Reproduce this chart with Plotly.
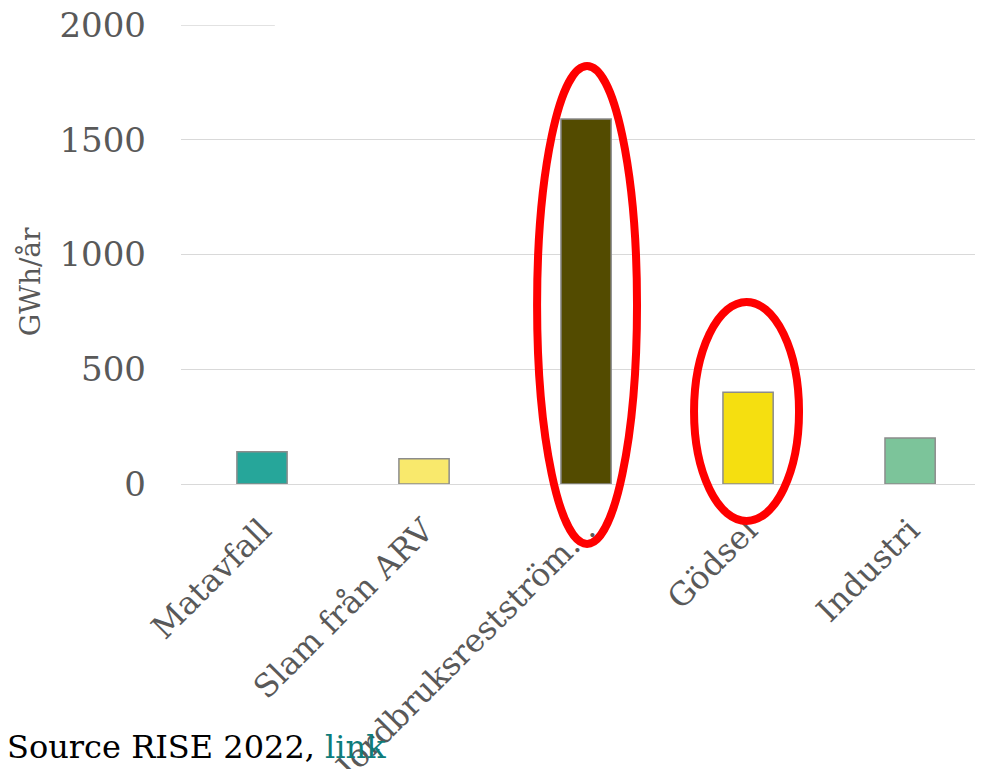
import plotly.graph_objects as go

categories = ["Matavfall", "Slam från ARV", "Jordbruksrestström…", "Gödsel", "Industri"]
values = [140, 110, 1590, 400, 200]
colors = ["#26A69A", "#F9E96C", "#534B00", "#F5DF10", "#7CC49A"]
y_ticks = [0, 500, 1000, 1500, 2000]

FONT = "DejaVu Serif"

fig = go.Figure(go.Bar(
    x=categories, y=values,
    marker=dict(color=colors, line=dict(color="#8C8C8C", width=1.5)),
    width=0.31,
))

# page body has an 8px margin: figure is offset by (8, 8) on screen
fig.update_layout(
    width=975, height=761,
    margin=dict(l=173, r=0, t=17, b=285, autoexpand=False),
    plot_bgcolor="white", paper_bgcolor="white",
    showlegend=False,
    font=dict(family=FONT, color="#595959"),
    xaxis=dict(
        range=[-0.5, 4.45], tickangle=-45, showgrid=False, automargin=False,
        tickfont=dict(size=32, family=FONT, color="#595959"),
        ticklabelstandoff=20, showline=False, zeroline=False,
    ),
    yaxis=dict(
        range=[0, 2000], tickvals=y_ticks, showgrid=True, gridcolor="#D9D9D9",
        gridwidth=1.3, zeroline=True, zerolinecolor="#D9D9D9", zerolinewidth=1.3,
        tickfont=dict(size=34, family=FONT, color="#595959"),
        ticklabelstandoff=34, ticklabeloverflow="allow", automargin=False,
    ),
    shapes=[
        dict(type="rect", xref="paper", yref="paper", x0=0.117, x1=1.02, y0=0.98, y1=1.02,
             fillcolor="white", line=dict(width=0), layer="above"),
        dict(type="line", xref="paper", yref="y", x0=0, x1=0.117, y0=2000, y1=2000,
             line=dict(color="#D9D9D9", width=1.3), layer="above"),
        dict(type="circle", xref="paper", yref="paper", x0=0.444, x1=0.5686, y0=-0.1307, y1=0.9107,
             line=dict(color="#FF0000", width=8), layer="above"),
        dict(type="circle", xref="paper", yref="paper", x0=0.6397, x1=0.7706, y0=-0.0806, y1=0.3965,
             line=dict(color="#FF0000", width=8), layer="above"),
    ],
    annotations=[
        dict(text="GWh/år", xref="paper", yref="paper", x=-0.188, y=0.44,
             xanchor="center", yanchor="middle", textangle=-90, showarrow=False,
             font=dict(size=28, family=FONT, color="#595959")),
        dict(text="Source RISE 2022, <span style='color:#0E7C7B'>link</span>",
             xref="paper", yref="paper", x=-0.2195, y=-0.6187, xanchor="left", yanchor="bottom",
             showarrow=False, font=dict(size=32, family=FONT, color="#000000")),
    ],
)

fig.write_html("out.html")
